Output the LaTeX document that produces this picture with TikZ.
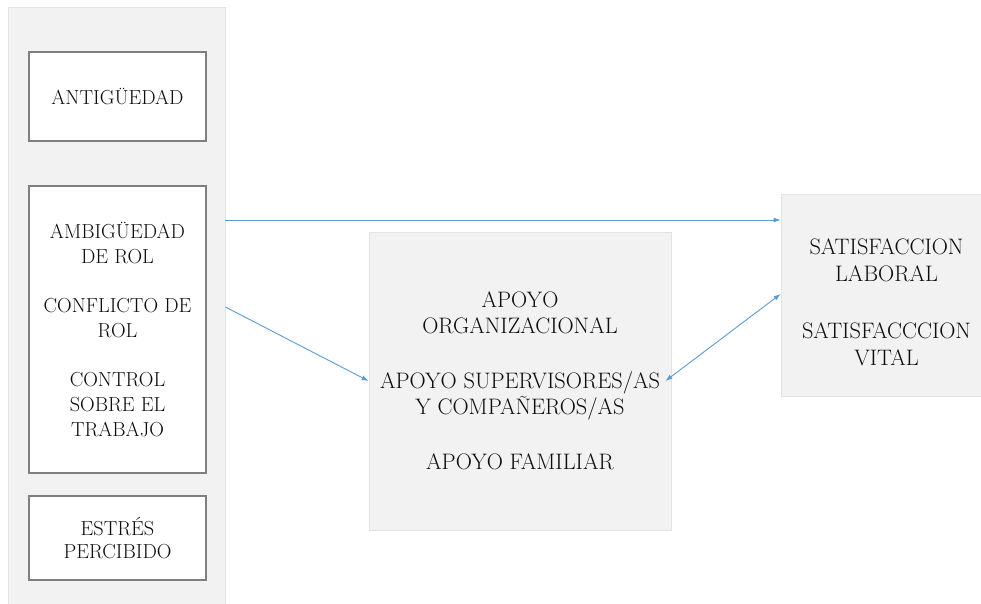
\documentclass[tikz,border=0pt]{standalone}
\usepackage{fontspec}
\usetikzlibrary{arrows.meta}
\definecolor{panelgray}{HTML}{F2F2F2}
\definecolor{panelline}{HTML}{E3E3E3}
\definecolor{boxline}{HTML}{7F7F7F}
\definecolor{arrowblue}{HTML}{5B9BD5}
\definecolor{txt}{HTML}{0D0D0D}
\tikzset{
  panel/.style={draw=panelline, fill=panelgray, line width=0.8pt, inner sep=0pt},
  whitebox/.style={draw=boxline, fill=white, line width=1.4pt, inner sep=0pt},
  graybox/.style={draw=panelline, fill=panelgray, line width=0.8pt, inner sep=0pt},
  lbl/.style={text=txt, align=center, inner sep=0pt},
  conn/.style={draw=arrowblue, line width=0.9pt, -{Latex[length=7pt,width=5pt]}},
  bconn/.style={draw=arrowblue, line width=0.9pt, {Latex[length=7pt,width=5pt]}-{Latex[length=7pt,width=5pt]}}
}
\begin{document}
\begin{tikzpicture}[x=1pt, y=-1pt]
\useasboundingbox (0,0) rectangle (981,603);
\clip (0,0) rectangle (981,603);
\fill[white] (0,0) rectangle (981,603);

% left panel
\node[panel, minimum width=217pt, minimum height=600pt] (panel) at (116.5,307) {};

% left boxes
\node[whitebox, minimum width=177pt, minimum height=89pt] (ant) at (117.5,96.5) {};
\node[lbl, font=\fontsize{20.3}{25}\selectfont] (antt) at (ant.center) {ANTIGÜEDAD};

\node[whitebox, minimum width=177pt, minimum height=287pt] (amb) at (117.5,329.5) {};
\node[lbl, font=\fontsize{20.3}{25}\selectfont] (ambt) at (amb.center)
  {AMBIGÜEDAD\\DE ROL\\[24pt]CONFLICTO DE\\ROL\\[24pt]CONTROL\\SOBRE EL\\TRABAJO};

\node[whitebox, minimum width=177pt, minimum height=84pt] (est) at (117.5,538) {};
\node[lbl, font=\fontsize{20.3}{23}\selectfont] (estt) at (est.center) {ESTRÉS\\PERCIBIDO};

% middle box
\node[graybox, minimum width=302pt, minimum height=298pt] (apoyo) at (520,381) {};
\node[lbl, font=\fontsize{22.4}{26}\selectfont] (apoyot) at (apoyo.center)
  {APOYO\\ORGANIZACIONAL\\[29pt]APOYO SUPERVISORES/AS\\Y COMPAÑEROS/AS\\[29pt]APOYO FAMILIAR};

% right box
\node[graybox, minimum width=211pt, minimum height=202pt] (sat) at (886.5,295) {};
\node[lbl, font=\fontsize{22.4}{27}\selectfont] (satt) at ([yshift=-7.5pt]sat.center)
  {SATISFACCION\\LABORAL\\[30pt]SATISFACCCION\\VITAL};

% connectors
\draw[conn] (panel.east |- 0,220) -- (sat.west |- 0,220);
\draw[conn] (panel.east |- 0,307) -- (apoyo.west);
\draw[bconn] ([xshift=-6pt]apoyo.east) -- ([yshift=1pt]sat.west);
\end{tikzpicture}
\end{document}
